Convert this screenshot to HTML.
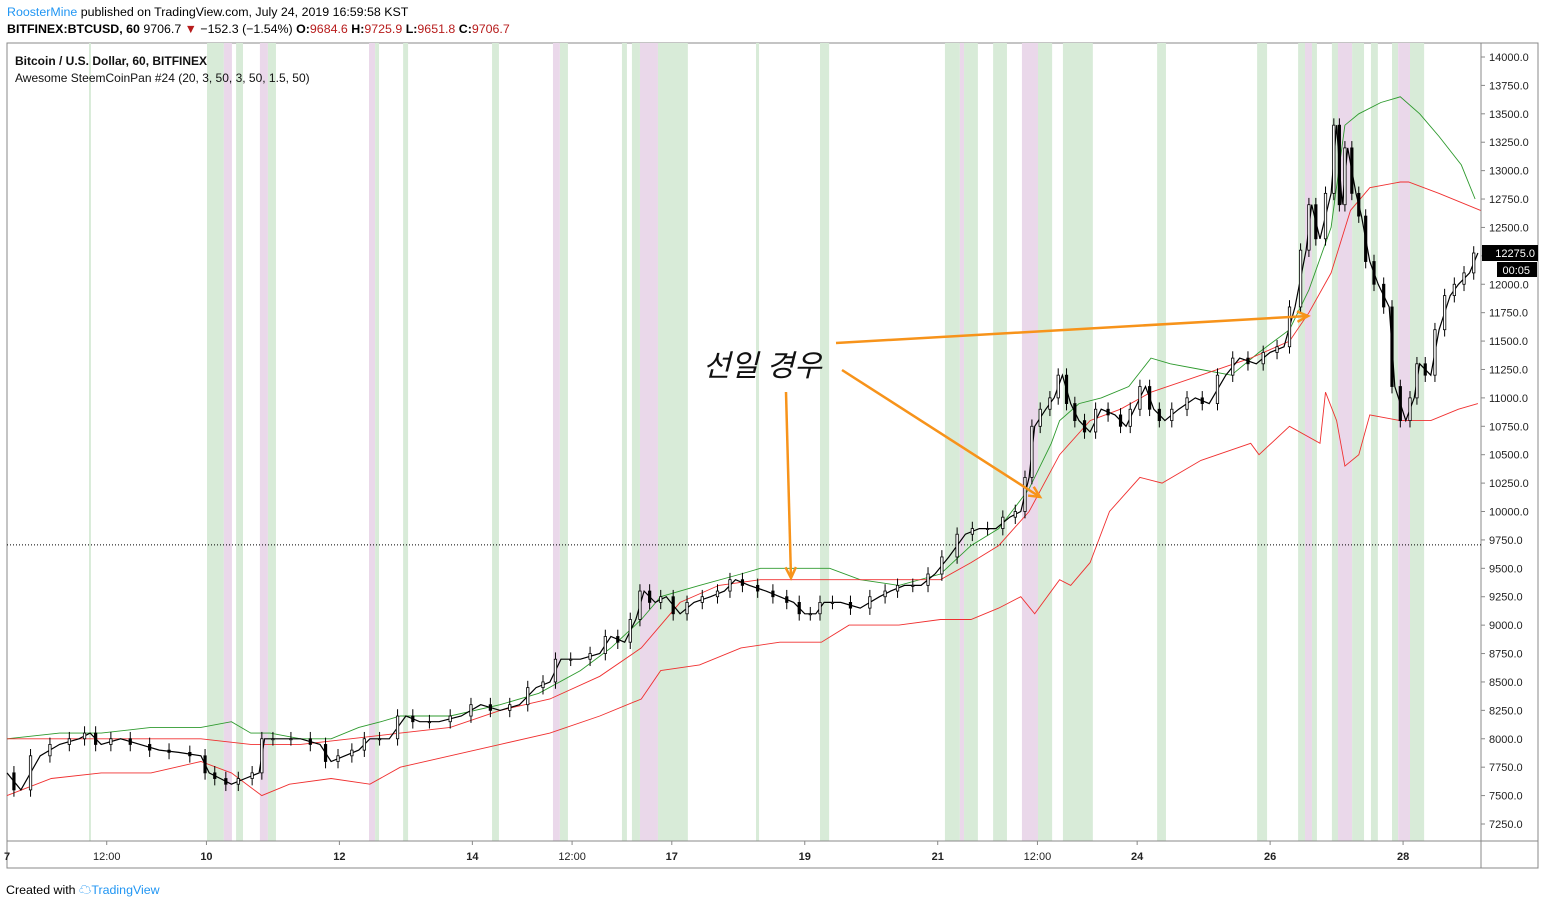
<!DOCTYPE html>
<html><head><meta charset="utf-8">
<style>
body{margin:0;background:#fff;width:1545px;height:905px;overflow:hidden;font-family:"Liberation Sans","Noto Sans CJK KR",sans-serif;}
.hdr{position:absolute;left:7px;font-size:12.4px;color:#000;white-space:nowrap}
.red{color:#b71c1c}
</style></head><body>
<div class="hdr" style="top:5px"><span style="color:#2196f3">RoosterMine</span> published on TradingView.com, July 24, 2019 16:59:58 KST</div>
<div class="hdr" style="top:22px"><b>BITFINEX:BTCUSD, 60</b> 9706.7 <span class="red">▼</span> −152.3 (−1.54%) <b>O:</b><span class="red">9684.6</span> <b>H:</b><span class="red">9725.9</span> <b>L:</b><span class="red">9651.8</span> <b>C:</b><span class="red">9706.7</span></div>
<svg id="chart" width="1545" height="905" style="position:absolute;left:0;top:0"></svg>
<div class="hdr" style="top:880px;left:6px">Created with <span style="color:#2196f3">☁TradingView</span></div>
<script>
const closeTimes=[0,5,12,19,26,30,34,41,48,55,62,70,73,77,81,86,91,93,99,106,113,117,122,127,131,138,144,149,156,164,171,178,185,191,196,200,207,214,218,223,227,230,234,238,243,248,254,259,263,268,274,279,284,288,292,295,301,308,315,319,324,330,335,340,346,351,357,362,366,369,371,375,378,381,384,387,391,395,400,404,407,411,414,418,423,429,434,440,445,451,456,461,465,469,471,474,478,480,482,484,487,489,492,495,499,501,505,508,510,514,517,521,524,528,531];
const closes=[7700,7550,7850,7950,8000,8050,7950,8000,7950,7900,7880,7850,7700,7650,7600,7650,7700,8000,8000,8000,7950,7800,7850,7900,8000,8000,8200,8150,8150,8200,8300,8250,8300,8450,8500,8700,8700,8750,8900,8850,9050,9300,9200,9250,9100,9200,9250,9300,9400,9350,9300,9250,9200,9100,9100,9200,9200,9150,9250,9300,9350,9350,9450,9600,9800,9850,9850,9950,10000,10300,10750,10900,11000,11200,10950,10800,10700,10900,10850,10750,10900,11100,10900,10800,10900,11000,10950,11200,11350,11300,11400,11450,11800,12300,12700,12400,12800,13400,12700,13200,12800,12600,12200,12000,11800,11100,10800,11000,11300,11200,11600,11900,12000,12100,12275];
const upperTimes=[0,19,34,52,70,81,88,95,106,117,127,135,142,160,178,192,207,218,229,236,250,265,272,286,297,308,322,337,348,358,369,377,380,387,395,405,413,420,431,442,452,463,470,478,483,488,496,503,510,517,525,530];
const upperVals=[8000,8050,8050,8100,8100,8150,8050,8050,8000,8000,8100,8150,8200,8200,8300,8400,8600,8800,9050,9250,9350,9450,9500,9500,9500,9400,9350,9450,9700,9850,10200,10600,10800,10950,11000,11100,11350,11300,11250,11200,11400,11600,11950,12500,13400,13500,13600,13650,13500,13300,13050,12750];
const midTimes=[0,34,70,88,106,124,142,160,178,196,214,229,243,257,272,286,308,322,337,348,358,369,380,391,402,413,431,449,463,470,478,485,492,503,506,517,532];
const midVals=[8000,8000,8000,7950,7950,8000,8050,8100,8250,8350,8550,8800,9200,9350,9400,9400,9400,9400,9400,9550,9700,10000,10500,10800,10900,11050,11200,11350,11500,11750,12100,12650,12850,12900,12900,12800,12650];
const lowerTimes=[0,16,34,52,70,81,92,102,117,131,142,160,178,196,214,229,236,250,265,279,294,304,322,337,348,358,366,371,380,384,391,398,409,417,431,449,452,463,474,476,480,483,488,492,503,514,524,531];
const lowerVals=[7500,7650,7700,7700,7800,7700,7500,7600,7650,7600,7750,7850,7950,8050,8200,8350,8600,8650,8800,8850,8850,9000,9000,9050,9050,9150,9250,9100,9400,9350,9550,10000,10300,10250,10450,10600,10500,10750,10600,11050,10800,10400,10500,10850,10800,10800,10900,10950];
const shadeStart=[29.6,72.2,78.3,82.7,91.3,94.2,130.7,132.9,143,175.1,197.1,199.6,222,225.6,228.5,235,270.4,293.5,338.6,344,345.5,356,366.4,372.2,381.2,415.2,451.3,466.1,468.6,471.1,478.3,480.5,485.6,492.4,500,502.2,506.5];
const shadeEnd=[30.3,78.3,81.2,85.2,94.2,97.1,132.9,134.3,144.8,177.6,199.6,202.5,223.8,228.5,235,245.8,271.5,296.8,344,345.5,350.5,361,372.2,377.3,392,418.4,454.9,468.6,471.1,472.9,480.5,485.6,489.9,494.9,502.2,506.5,511.6];
const shadeKind=["g","g","p","g","p","g","p","g","g","g","p","g","g","g","p","g","g","g","g","p","g","g","p","g","g","g","g","g","p","g","g","p","g","g","g","p","g"];
const priceTicks=[14000,13750,13500,13250,13000,12750,12500,12250,12000,11750,11500,11250,11000,10750,10500,10250,10000,9750,9500,9250,9000,8750,8500,8250,8000,7750,7500,7250];
const timeTickHours=[0,36,72,120,168,204,240,288,336,372,408,456,504];
const timeTickLabels=["7","12:00","10","12","14","12:00","17","19","21","12:00","24","26","28"];
const lastPrice=9706.7, lastClose=12275;

const L=7,R=1481,T=43,B=841;
const X=h=>7+h*2.77;
const Y=p=>57+(14000-p)/250*28.407;
const svg=document.getElementById('chart');
const NS='http://www.w3.org/2000/svg';
function mk(tag,attrs,parent){const e=document.createElementNS(NS,tag);for(const k in attrs)e.setAttribute(k,attrs[k]);(parent||svg).appendChild(e);return e;}

let fr=mk('rect',{x:L,y:T,width:1531,height:825,fill:'none',stroke:'#888','stroke-width':1});


for(let i=0;i<shadeStart.length;i++){
  let r=mk('rect',{x:X(shadeStart[i]),y:T,width:Math.max(1.5,X(shadeEnd[i])-X(shadeStart[i])),height:B-T,fill:shadeKind[i]=='g'?'#d8ebd8':'#ead8ea'});
  
  
}
let a1=mk('line',{x1:R,y1:T,x2:R,y2:868,stroke:'#888'});


let a2=mk('line',{x1:L,y1:B,x2:1538,y2:B,stroke:'#888'});


priceTicks.forEach(p=>{
  mk('line',{x1:R,y1:Y(p),x2:R+4,y2:Y(p),stroke:'#888'});
  let t=mk('text',{x:1489,y:Y(p)+4,'font-size':11,fill:'#222'});t.textContent=p.toFixed(1);
  
  
});
timeTickHours.forEach((h,i)=>{
  mk('line',{x1:X(h),y1:B,x2:X(h),y2:B+4,stroke:'#888'});
  let t=mk('text',{x:X(h),y:860,'font-size':11,fill:'#222','text-anchor':'middle','font-weight':/:/.test(timeTickLabels[i])?'normal':'bold'});t.textContent=timeTickLabels[i];
  
  
});
function poly(ts,vs,col,w,name){
  let d=ts.map((t,i)=>(i?'L':'M')+X(t).toFixed(1)+','+Y(vs[i]).toFixed(1)).join('');
  let p=mk('path',{d:d,fill:'none',stroke:col,'stroke-width':w});
  
  
}
poly(upperTimes,upperVals,'#2e9a2e',0.9,'upper-band-line');
poly(midTimes,midVals,'#f03030',0.9,'middle-band-line');
poly(lowerTimes,lowerVals,'#f03030',0.9,'lower-band-line');
let dl=mk('line',{x1:L,y1:Y(lastPrice),x2:R,y2:Y(lastPrice),stroke:'#000','stroke-dasharray':'1,2'});


poly(closeTimes,closes,'#000',1.2,'close-path');
for(let i=1;i<closes.length;i++){
  const o=closes[i-1],c=closes[i];
  const x=X((closeTimes[i-1]+closeTimes[i])/2);
  const hi=Math.max(o,c)+60,lo=Math.min(o,c)-60;
  const g=mk('g',{});
  
  
  mk('line',{x1:x,y1:Y(hi),x2:x,y2:Y(lo),stroke:'#000','stroke-width':1},g);
  mk('rect',{x:x-1.2,y:Y(Math.max(o,c)),width:2.4,height:Math.max(1,Math.abs(Y(o)-Y(c))),fill:c>=o?'#fff':'#000',stroke:'#000','stroke-width':0.8},g);
}
let pl=mk('rect',{x:R+1,y:Y(lastClose)-8,width:56,height:16,fill:'#000'});


let plt=mk('text',{x:1535,y:Y(lastClose)+4,'font-size':11,fill:'#fff','text-anchor':'end'});plt.textContent=lastClose.toFixed(1);
let cl=mk('rect',{x:1497,y:Y(lastClose)+9,width:40,height:15,fill:'#000'});


let clt=mk('text',{x:1530,y:Y(lastClose)+21,'font-size':11,fill:'#fff','text-anchor':'end'});clt.textContent='00:05';
let lg1=mk('text',{x:15,y:65,'font-size':12,'font-weight':'bold',fill:'#111'});lg1.textContent='Bitcoin / U.S. Dollar, 60, BITFINEX';


let lg2=mk('text',{x:15,y:82,'font-size':12,fill:'#111'});lg2.textContent='Awesome SteemCoinPan #24 (20, 3, 50, 3, 50, 1.5, 50)';


let ann=mk('text',{x:703,y:376,'font-size':30,fill:'#111','font-style':'italic'});ann.textContent='선일 경우';


function arrow(x1,y1,x2,y2){
  const g=mk('g',{});
  
  
  mk('line',{x1,y1,x2,y2,stroke:'#f7931a','stroke-width':2.5},g);
  const a=Math.atan2(y2-y1,x2-x1),s=12;
  const p=[[x2,y2],[x2-s*Math.cos(a-0.45),y2-s*Math.sin(a-0.45)],[x2-s*Math.cos(a+0.45),y2-s*Math.sin(a+0.45)]];
  mk('path',{d:'M'+p[1]+'L'+p[0]+'L'+p[2],fill:'none',stroke:'#f7931a','stroke-width':2.5},g);
}
arrow(836,343,1308,316);
arrow(842,370,1040,497);
arrow(786,392,791,578);
</script>
</body></html>
